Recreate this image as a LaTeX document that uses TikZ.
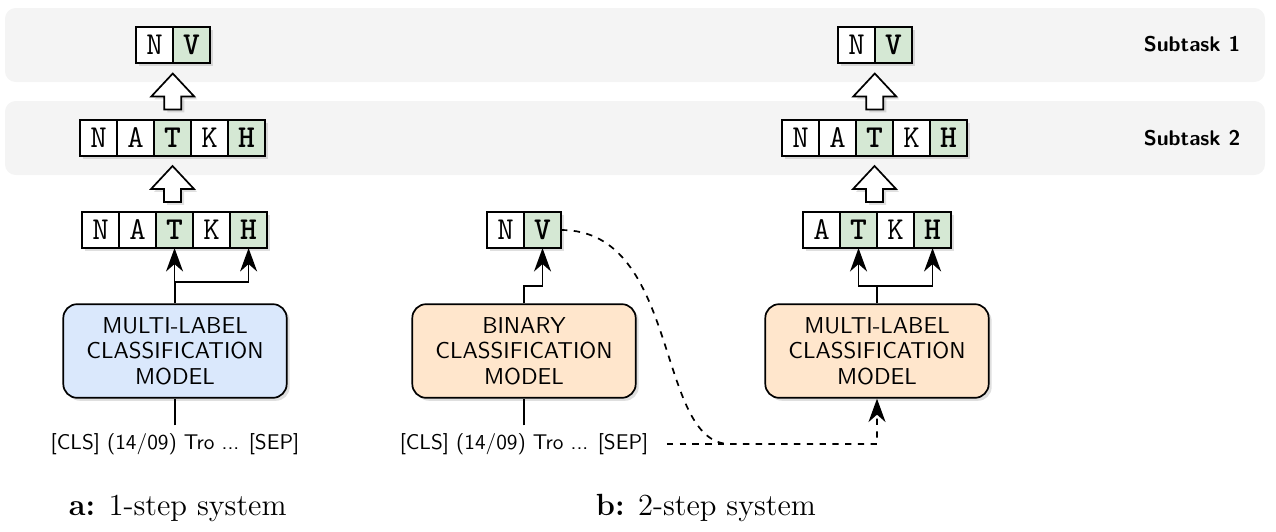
\documentclass[tikz,border=0pt]{standalone}
\usetikzlibrary{positioning, calc, shadows, arrows.meta}
\definecolor{hitgreen}{HTML}{D5E8D4}
\definecolor{modelblue}{HTML}{DAE8FC}
\definecolor{modelorange}{HTML}{FFE6CC}
\definecolor{bandgray}{HTML}{F4F4F4}

\begin{document}
\begin{tikzpicture}[x=0.47pt, y=-0.47pt, thick, node distance=0pt,
  upconn/.style = {-{Stealth[length=11pt, width=8pt, inset=3.5pt]}},
  boxshadow/.style = {drop shadow={shadow xshift=1.4pt, shadow yshift=-1.4pt, opacity=.25}},
  cell/.style = {draw, fill=white, outer sep=0pt, inner sep=0pt, minimum width=17.4pt, minimum height=17pt, font=\fontsize{15}{18}\selectfont\ttfamily, boxshadow},
  hit/.style = {cell, fill=hitgreen, font=\fontsize{15}{18}\selectfont\ttfamily\bfseries},
  model/.style = {draw, rounded corners=6.5pt, minimum width=105pt, minimum height=44pt, align=center, font=\fontsize{10.8}{12}\selectfont\sffamily, boxshadow},
  input/.style = {font=\sffamily},
  band/.style = {fill=bandgray, rounded corners=5pt},
  tasklabel/.style = {font=\sffamily\bfseries},
  caption/.style = {anchor=west, font=\Large},
  hollowup/.pic = {\filldraw[fill=white, boxshadow] (0,-18) -- (21.5,5) -- (8.5,5) -- (8.5,18) -- (-8.5,18) -- (-8.5,5) -- (-21.5,5) -- cycle;}]
\useasboundingbox (0,0) rectangle (1276,531);

% subtask bands
\fill[band] (5,8) rectangle (1265,82);
\fill[band] (5,101) rectangle (1265,175);
\node[tasklabel] (task1) at (1192,44) {Subtask 1};
\node[tasklabel] (task2) at (1192,138) {Subtask 2};

% a: 1-step system
\node[cell] (a1n) at (154.5,45) {N};
\node[hit, right=of a1n] (a1v) {V};

\node[cell] (a2n) at (98.5,138) {N};
\node[cell, right=of a2n] (a2a) {A};
\node[hit, right=of a2a] (a2t) {T};
\node[cell, right=of a2t] (a2k) {K};
\node[hit, right=of a2k] (a2h) {H};

\node[cell] (a3n) at (100.5,230) {N};
\node[cell, right=of a3n] (a3a) {A};
\node[hit, right=of a3a] (a3t) {T};
\node[cell, right=of a3t] (a3k) {K};
\node[hit, right=of a3k] (a3h) {H};

\node[model, fill=modelblue] (amodel) at (175,351) {MULTI-LABEL\\CLASSIFICATION\\MODEL};
\node[input] (ain) at (175,444) {[CLS] (14/09) Tro ... [SEP]};

\pic at ($(a1n.south east)!.5!(a2t.north)$) {hollowup};
\pic at ($(a2t.south)!.5!(a2t.south |- a3t.north)$) {hollowup};

\coordinate[above=10pt of amodel.north] (asplit);
\draw (ain) -- (amodel);
\draw (amodel) -- (asplit);
\draw[upconn] (asplit) -| (a3t.south);
\draw[upconn] (asplit) -| (a3h.south);

% b: 2-step system, step 1
\node[cell] (bn) at (505.5,230) {N};
\node[hit, right=of bn] (bv) {V};
\node[model, fill=modelorange] (bmodel) at (524,351) {BINARY\\CLASSIFICATION\\MODEL};
\node[input] (bin) at (524,444) {[CLS] (14/09) Tro ... [SEP]};

\draw (bin) -- (bmodel);
\draw[upconn] (bmodel.north) -- ++(0,-17) -| (bv.south);

% b: 2-step system, step 2
\node[cell] (c1n) at (856.5,45) {N};
\node[hit, right=of c1n] (c1v) {V};

\node[cell] (c2n) at (800.5,138) {N};
\node[cell, right=of c2n] (c2a) {A};
\node[hit, right=of c2a] (c2t) {T};
\node[cell, right=of c2t] (c2k) {K};
\node[hit, right=of c2k] (c2h) {H};

\node[cell] (c3a) at (821.5,230) {A};
\node[hit, right=of c3a] (c3t) {T};
\node[cell, right=of c3t] (c3k) {K};
\node[hit, right=of c3k] (c3h) {H};

\node[model, fill=modelorange] (cmodel) at (877,351) {MULTI-LABEL\\CLASSIFICATION\\MODEL};

\pic at ($(c1n.south east)!.5!(c2t.north)$) {hollowup};
\pic at ($(c2t.south)!.5!(c2t.south |- c3t.north)$) {hollowup};

\coordinate[above=8pt of cmodel.north] (csplit);
\draw (cmodel) -- (csplit);
\draw[upconn] (csplit) -| (c3t.south);
\draw[upconn] (csplit) -| (c3h.south);

% dashed feed into step 2
\coordinate (bbend) at (730,444);
\draw[dashed, upconn] (bv.east) .. controls +(120,0) and +(-75,0) .. (bbend) -| (cmodel.south);
\draw[dashed] ([xshift=5pt]bin.east) -- (bbend);

% captions
\node[caption] (acap) at (61,508) {\textbf{a:} 1-step system};
\node[caption] (bcap) at (588,508) {\textbf{b:} 2-step system};
\end{tikzpicture}
\end{document}
